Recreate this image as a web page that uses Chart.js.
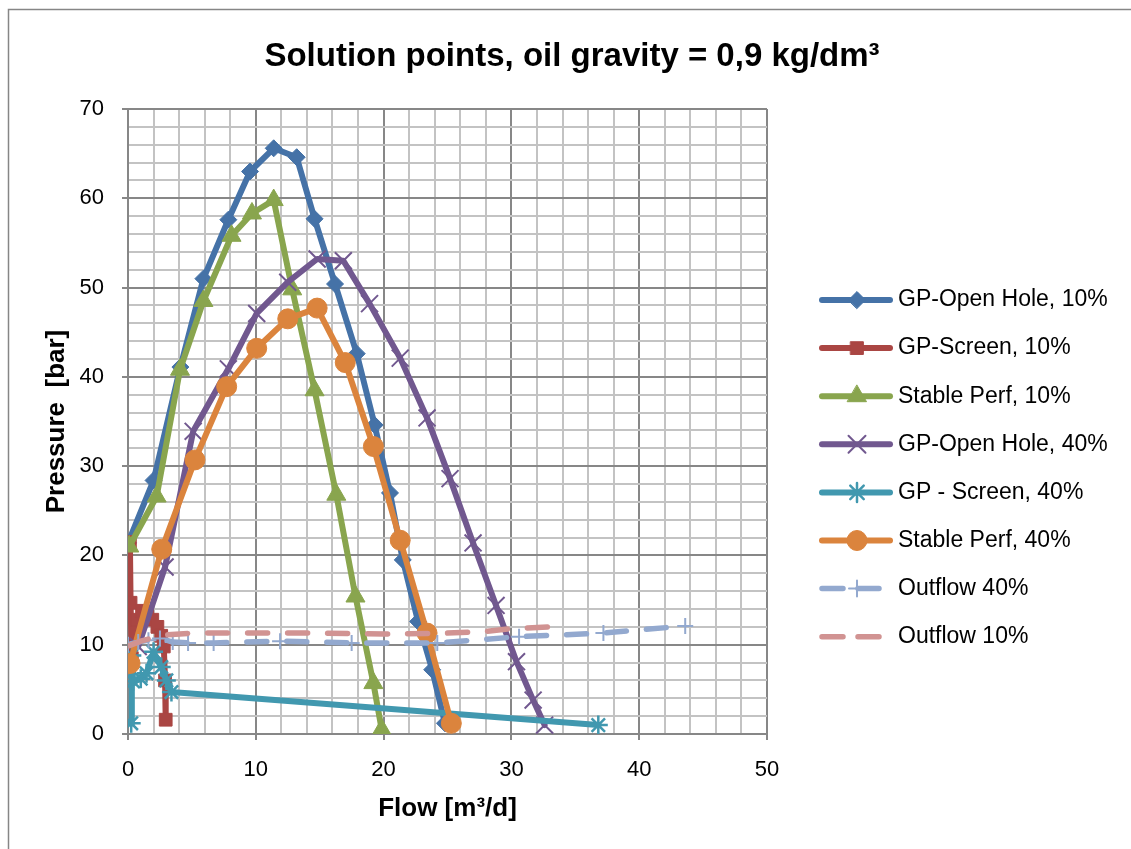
<!DOCTYPE html>
<html>
<head>
<meta charset="utf-8">
<title>Solution points</title>
<script src="https://cdn.jsdelivr.net/npm/chart.js@4.4.1/dist/chart.umd.min.js"></script>
<style>
  html, body { margin: 0; padding: 0; background: #fff; }
</style>
</head>
<body>
<canvas id="myChart" width="1131" height="849"></canvas>
<script>
// flow [m3/d] and pressure [bar] for each solution curve
const openHole10Flow = [0.0, 2.0, 4.1, 5.9, 7.85, 9.55, 11.4, 13.2, 14.6, 16.2, 17.9, 19.3, 20.5, 21.5, 22.7, 23.8, 24.8];
const openHole10Pressure = [21.4, 28.4, 41.1, 51.0, 57.6, 63.0, 65.6, 64.6, 57.7, 50.4, 42.6, 34.6, 27.0, 19.5, 12.6, 7.2, 1.2];

const screen10Flow = [0.15, 0.2, 0.3, 0.7, 1.1, 1.5, 1.9, 2.3, 2.6, 2.8, 2.9, 2.95];
const screen10Pressure = [21.5, 14.7, 8.5, 12.8, 13.8, 13.4, 12.8, 12.0, 11.0, 9.8, 6.0, 1.6];

const perf10Flow = [0.1, 2.24, 4.07, 5.9, 8.1, 9.7, 11.4, 12.85, 14.6, 16.3, 17.8, 19.2, 19.85];
const perf10Pressure = [21.0, 26.6, 40.8, 48.5, 55.8, 58.3, 59.8, 49.8, 38.5, 26.8, 15.4, 5.7, 0.5];

const openHole40Flow = [0.8, 2.9, 5.1, 7.85, 10.07, 12.5, 14.8, 16.85, 18.9, 21.3, 23.4, 25.2, 27.0, 28.8, 30.4, 31.7, 32.6];
const openHole40Pressure = [9.8, 18.7, 33.9, 40.9, 47.1, 50.6, 53.2, 53.0, 48.2, 42.1, 35.4, 28.6, 21.4, 14.4, 8.1, 3.8, 1.0];

const screen40Flow = [0.25, 0.3, 0.4, 1.0, 1.45, 2.0, 2.6, 3.0, 3.4, 36.8];
const screen40Pressure = [1.2, 8.8, 5.9, 6.2, 6.8, 9.2, 7.5, 6.0, 4.7, 1.0];

const perf40Flow = [0.16, 2.64, 5.24, 7.72, 10.07, 12.5, 14.8, 17.0, 19.2, 21.3, 23.4, 25.3];
const perf40Pressure = [7.9, 20.7, 30.7, 38.9, 43.2, 46.5, 47.7, 41.6, 32.2, 21.7, 11.3, 1.2];

const outflow40Flow = [0.0, 0.8, 1.6, 2.5, 3.5, 4.7, 6.7, 11.9, 17.5, 24.2, 30.6, 37.2, 43.6];
const outflow40Pressure = [10.0, 10.3, 10.5, 10.7, 10.3, 10.2, 10.2, 10.4, 10.2, 10.2, 10.9, 11.3, 12.1];

const outflow10Flow = [0.1, 1.0, 2.0, 3.0, 5.0, 10.0, 15.0, 20.0, 25.0, 28.0, 30.0, 33.0];
const outflow10Pressure = [9.9, 10.4, 10.8, 11.1, 11.3, 11.3, 11.3, 11.2, 11.3, 11.5, 11.8, 12.0];

const chartTitle = 'Solution points, oil gravity = 0,9 kg/dm³';
const xTitle = 'Flow [m³/d]';
const yTitle = 'Pressure  [bar]';

function toPoints(xs, ys) {
    return xs.map((x, i) => ({ x: x, y: ys[i] }));
}

function series(label, xs, ys, color, style, radius, extra) {
    return Object.assign({
        label: label,
        data: toPoints(xs, ys),
        borderColor: color,
        backgroundColor: color,
        pointBackgroundColor: color,
        pointBorderColor: color,
        borderWidth: 6,
        borderCapStyle: 'round',
        borderJoinStyle: 'round',
        pointStyle: style,
        pointRadius: radius,
        pointBorderWidth: 1,
        showLine: true,
        tension: 0
    }, extra || {});
}

const datasets = [
    series('GP-Open Hole, 10%', openHole10Flow, openHole10Pressure, '#4572A7', 'rectRot', 8.5),
    series('GP-Screen, 10%', screen10Flow, screen10Pressure, '#AA4643', 'rect', 9),
    series('Stable Perf, 10%', perf10Flow, perf10Pressure, '#89A54E', 'triangle', 11),
    series('GP-Open Hole, 40%', openHole40Flow, openHole40Pressure, '#71588F', 'crossRot', 12, { pointBorderWidth: 2 }),
    series('GP - Screen, 40%', screen40Flow, screen40Pressure, '#4198AF', 'star', 9.5, { pointBorderWidth: 2.5 }),
    series('Stable Perf, 40%', perf40Flow, perf40Pressure, '#DB843D', 'circle', 10),
    series('Outflow 40%', outflow40Flow, outflow40Pressure, '#93A9CF', 'cross', 8, { borderWidth: 5.5, pointBorderWidth: 2, borderDash: [20, 20] }),
    series('Outflow 10%', outflow10Flow, outflow10Pressure, '#D19392', 'circle', 0, { borderWidth: 5.5, borderDash: [20, 20] })
];
// later series are painted on top
datasets.forEach((d, i) => { d.order = datasets.length - i; });

function gridColor(c) {
    return c.tick && c.tick.value % 10 === 0 ? '#878787' : '#C3C3C3';
}
function tickColor(c) {
    return c.tick && c.tick.value % 10 === 0 ? '#878787' : 'rgba(0,0,0,0)';
}

// frame, title and the line+marker legend on the right
const decorations = {
    id: 'decorations',
    afterDraw(chart) {
        const ctx = chart.ctx;
        ctx.save();
        ctx.strokeStyle = '#868686';
        ctx.lineWidth = 1.5;
        ctx.strokeRect(8.5, 9.5, 1140, 860);

        ctx.fillStyle = '#000';
        ctx.font = 'bold 33px "Liberation Sans", Arial, sans-serif';
        ctx.textAlign = 'center';
        ctx.textBaseline = 'middle';
        ctx.fillText(chartTitle, 572, 57);

        ctx.textAlign = 'left';
        ctx.font = '23px "Liberation Sans", Arial, sans-serif';
        chart.data.datasets.forEach((d, i) => {
            const y = 300 + i * 48.1;
            ctx.strokeStyle = d.borderColor;
            ctx.lineWidth = d.borderWidth;
            ctx.lineCap = 'round';
            ctx.setLineDash(d.borderDash ? [21, 15] : []);
            ctx.beginPath();
            ctx.moveTo(822, y);
            ctx.lineTo(890, y);
            ctx.stroke();
            ctx.setLineDash([]);
            if (d.pointRadius > 0) {
                ctx.fillStyle = d.pointBackgroundColor;
                ctx.strokeStyle = d.pointBorderColor;
                ctx.lineWidth = d.pointBorderWidth;
                Chart.helpers.drawPoint(ctx, {
                    pointStyle: d.pointStyle,
                    radius: d.pointRadius,
                    rotation: 0,
                    borderWidth: d.pointBorderWidth
                }, 857, y);
            }
            ctx.fillStyle = '#000';
            ctx.fillText(d.label, 898, y);
        });
        ctx.restore();
    }
};

Chart.defaults.font.family = '"Liberation Sans", Arial, sans-serif';
Chart.defaults.color = '#000';

var ctx = document.getElementById('myChart').getContext('2d');
var chart = new Chart(ctx, {
    type: 'scatter',
    data: { datasets: datasets },
    options: {
        responsive: false,
        animation: false,
        layout: { padding: { left: 0, top: 109, right: 364, bottom: 0 } },
        plugins: {
            legend: { display: false },
            title: { display: false },
            tooltip: { enabled: false }
        },
        scales: {
            x: {
                type: 'linear',
                min: 0,
                max: 50,
                afterFit: s => { s.height = 115; },
                ticks: {
                    stepSize: 2,
                    autoSkip: false,
                    maxRotation: 0,
                    padding: 17,
                    font: { size: 22 },
                    callback: v => (v % 10 === 0 ? v : '')
                },
                grid: { color: gridColor, tickColor: tickColor, lineWidth: 2, tickLength: 6 },
                border: { color: '#878787', width: 2 },
                title: {
                    display: true,
                    text: xTitle,
                    font: { size: 26, weight: 'bold' },
                    padding: { top: 0, bottom: 25 }
                }
            },
            y: {
                type: 'linear',
                min: 0,
                max: 70,
                afterFit: s => { s.width = 128; },
                ticks: {
                    stepSize: 2,
                    autoSkip: false,
                    padding: 18,
                    font: { size: 22 },
                    callback: v => (v % 10 === 0 ? v : '')
                },
                grid: { color: gridColor, tickColor: tickColor, lineWidth: 2, tickLength: 6 },
                border: { color: '#878787', width: 2 },
                title: {
                    display: true,
                    text: yTitle,
                    font: { size: 26, weight: 'bold' },
                    padding: { top: 41, bottom: 0 }
                }
            }
        }
    },
    plugins: [decorations]
});
</script>
</body>
</html>
